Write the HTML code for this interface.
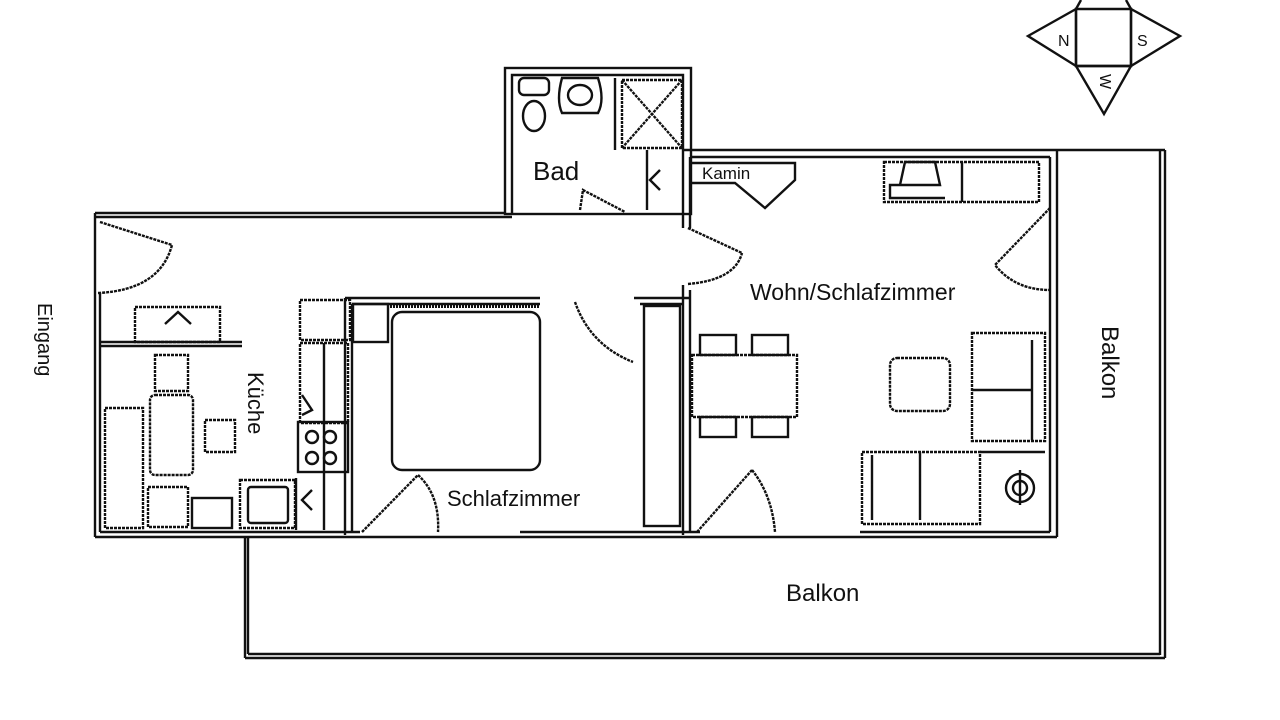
<!DOCTYPE html>
<html><head><meta charset="utf-8"><style>
html,body{margin:0;padding:0;background:#fff;width:1280px;height:720px;overflow:hidden}
svg{display:block}
text{font-family:"Liberation Sans",Arial,sans-serif;fill:#111}
</style></head><body>
<svg width="1280" height="720" viewBox="0 0 1280 720" xmlns="http://www.w3.org/2000/svg">
<g fill="none" stroke="#111" stroke-width="2.4">
<polygon points="1076,9 1131,9 1131,66 1076,66"/>
<polygon points="1076,9 1028,36 1076,66"/>
<polygon points="1131,9 1180,36 1131,66"/>
<polygon points="1076,66 1104,114 1131,66"/>
<line x1="1076" y1="9" x2="1081" y2="0"/><line x1="1131" y1="9" x2="1126" y2="0"/>

<rect x="505" y="68" width="186" height="146"/>
<polyline points="512,213 512,75 683,75 683,150"/>
<polyline points="615,150 615,78"/><rect x="622" y="80" width="60" height="68" stroke-dasharray="3,1"/>
<line x1="622" y1="80" x2="682" y2="148" stroke-dasharray="3,1"/><line x1="682" y1="80" x2="622" y2="148" stroke-dasharray="3,1"/>
<line x1="647" y1="150" x2="647" y2="210"/>
<polyline points="660,170 650,180 660,190"/>
<rect x="519" y="78" width="30" height="17" rx="5"/>
<ellipse cx="534" cy="116" rx="11" ry="15"/>
<path d="M562,78 H598 Q605,100 598,113 H562 Q556,100 562,78Z"/>
<ellipse cx="580" cy="95" rx="12" ry="10"/>
<polyline points="580,210 583,190 625,212" stroke-dasharray="3,1"/>

<line x1="95" y1="213" x2="505" y2="213"/><line x1="95" y1="217" x2="512" y2="217"/>
<line x1="683" y1="150" x2="1057" y2="150"/><line x1="691" y1="157" x2="1050" y2="157"/>
<line x1="1057" y1="150" x2="1057" y2="537"/><line x1="1050" y1="157" x2="1050" y2="532"/>
<line x1="95" y1="537" x2="1057" y2="537"/>
<line x1="100" y1="532" x2="360" y2="532"/><line x1="520" y1="532" x2="700" y2="532"/><line x1="860" y1="532" x2="1050" y2="532"/>
<line x1="95" y1="213" x2="95" y2="537"/><line x1="100" y1="293" x2="100" y2="532"/>
<path d="M98,293 Q160,290 172,245" stroke-dasharray="3,1"/><line x1="100" y1="222" x2="172" y2="245" stroke-dasharray="3,1"/>

<rect x="135" y="307" width="85" height="35" stroke-dasharray="3,1"/>
<polyline points="165,324 178,312 191,324"/>
<line x1="100" y1="342" x2="242" y2="342"/><line x1="100" y1="346" x2="242" y2="346"/>
<rect x="155" y="355" width="33" height="36" stroke-dasharray="3,1"/>
<rect x="150" y="395" width="43" height="80" rx="5" stroke-dasharray="3,1"/>
<rect x="205" y="420" width="30" height="32" stroke-dasharray="3,1"/>
<rect x="105" y="408" width="38" height="120" stroke-dasharray="3,1"/>
<rect x="148" y="487" width="40" height="40" stroke-dasharray="3,1"/>
<rect x="192" y="498" width="40" height="30"/>
<rect x="240" y="480" width="55" height="48" stroke-dasharray="3,1"/>
<rect x="248" y="487" width="40" height="36" rx="3"/>
<polyline points="312,490 302,500 312,510"/>
<rect x="300" y="300" width="50" height="40" stroke-dasharray="3,1"/>
<rect x="300" y="343" width="48" height="80" stroke-dasharray="3,1"/>
<line x1="324" y1="343" x2="324" y2="530"/>
<polyline points="302,395 312,410 302,415"/>
<rect x="298" y="422" width="50" height="50"/>
<circle cx="312" cy="437" r="6"/><circle cx="330" cy="437" r="6"/>
<circle cx="312" cy="458" r="6"/><circle cx="330" cy="458" r="6"/>
<line x1="296" y1="478" x2="296" y2="530"/>

<line x1="345" y1="298" x2="345" y2="535"/><line x1="352" y1="304" x2="352" y2="532"/>
<line x1="345" y1="298" x2="540" y2="298"/><line x1="352" y1="304" x2="540" y2="304"/>
<line x1="634" y1="298" x2="690" y2="298"/><line x1="640" y1="304" x2="683" y2="304"/>
<rect x="353" y="304" width="35" height="38"/>
<rect x="392" y="312" width="148" height="158" rx="10"/>
<line x1="390" y1="306" x2="540" y2="306" stroke-width="4" stroke-dasharray="2,1"/>
<path d="M575,302 Q590,345 633,362" stroke-dasharray="3,1"/>
<rect x="644" y="306" width="36" height="220"/>
<line x1="362" y1="532" x2="418" y2="475" stroke-dasharray="3,1"/>
<path d="M418,475 Q440,495 438,532" stroke-dasharray="3,1"/>

<line x1="683" y1="150" x2="683" y2="228"/><line x1="690" y1="157" x2="690" y2="228"/>
<line x1="683" y1="285" x2="683" y2="535"/><line x1="690" y1="290" x2="690" y2="532"/>
<path d="M688,228 L742,253 M688,284 Q735,280 742,253" stroke-dasharray="3,1"/>
<line x1="697" y1="532" x2="752" y2="470" stroke-dasharray="3,1"/>
<path d="M752,470 Q772,495 775,532" stroke-dasharray="3,1"/>

<polyline points="691,163 795,163 795,180 765,208 735,183 691,183"/>
<rect x="884" y="162" width="155" height="40" stroke-dasharray="3,1"/>
<line x1="962" y1="162" x2="962" y2="202"/>
<polyline points="900,185 905,162 935,162 940,185 890,185 890,198 945,198"/>
<path d="M1050,208 L995,265 Q1015,290 1050,290" stroke-dasharray="3,1"/>
<rect x="692" y="355" width="105" height="62" stroke-dasharray="3,1"/>
<rect x="700" y="335" width="36" height="20"/><rect x="752" y="335" width="36" height="20"/>
<rect x="700" y="417" width="36" height="20"/><rect x="752" y="417" width="36" height="20"/>
<rect x="890" y="358" width="60" height="53" rx="7" stroke-dasharray="3,1"/>
<rect x="972" y="333" width="73" height="108" stroke-dasharray="3,1"/>
<line x1="972" y1="390" x2="1032" y2="390"/><line x1="1032" y1="340" x2="1032" y2="440"/>
<rect x="862" y="452" width="118" height="72" stroke-dasharray="3,1"/>
<line x1="920" y1="452" x2="920" y2="520"/><line x1="872" y1="455" x2="872" y2="520"/>
<line x1="980" y1="452" x2="1045" y2="452"/>
<circle cx="1020" cy="488" r="14"/><circle cx="1020" cy="488" r="7"/>
<line x1="1020" y1="470" x2="1020" y2="505"/>

<line x1="1057" y1="150" x2="1165" y2="150"/>
<line x1="1165" y1="150" x2="1165" y2="658"/><line x1="1160" y1="150" x2="1160" y2="655"/>
<line x1="245" y1="658" x2="1165" y2="658"/><line x1="248" y1="654" x2="1160" y2="654"/>
<line x1="245" y1="537" x2="245" y2="658"/><line x1="248" y1="537" x2="248" y2="654"/>
</g>
<g>
<text x="1058" y="46" font-size="16">N</text>
<text x="1137" y="46" font-size="16">S</text>
<text x="1096" y="78" font-size="16" transform="rotate(90 1100 78)">W</text>
<text x="533" y="180" font-size="26">Bad</text>
<text x="702" y="179" font-size="17">Kamin</text>
<text x="750" y="300" font-size="23">Wohn/Schlafzimmer</text>
<text x="447" y="506" font-size="22">Schlafzimmer</text>
<text x="786" y="601" font-size="24">Balkon</text>
<text font-size="24" transform="translate(1102,326) rotate(90)">Balkon</text>
<text font-size="22" transform="translate(248,372) rotate(90)">Küche</text>
<text font-size="20" transform="translate(38,303) rotate(90)">Eingang</text>
</g>
</svg>
</body></html>
